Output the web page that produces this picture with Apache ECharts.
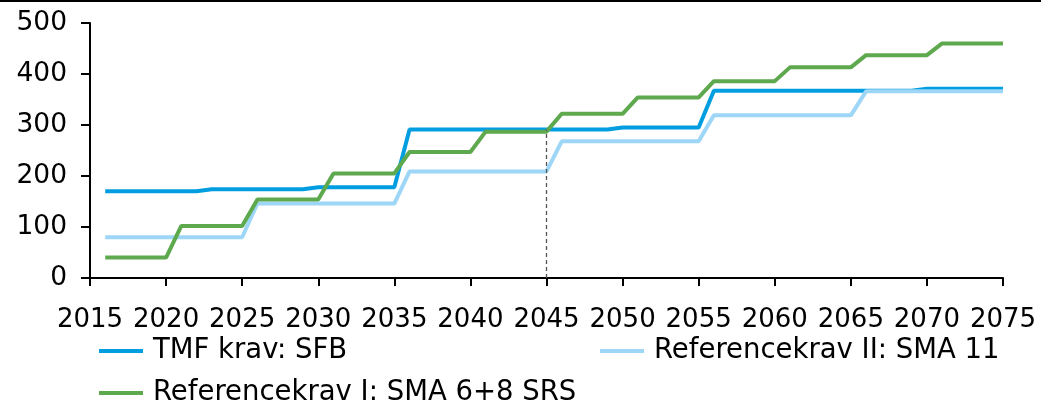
<!DOCTYPE html>
<html>
<head>
<meta charset="utf-8">
<script src="https://cdn.jsdelivr.net/npm/echarts@6/dist/echarts.min.js"></script>
<style>html,body{margin:0;padding:0;background:#fff}#c{width:1041px;height:406px}</style>
</head>
<body>
<div id="c"></div>
<script>
var years = [2016,2017,2018,2019,2020,2021,2022,2023,2024,2025,2026,2027,2028,2029,2030,2031,2032,2033,2034,2035,2036,2037,2038,2039,2040,2041,2042,2043,2044,2045,2046,2047,2048,2049,2050,2051,2052,2053,2054,2055,2056,2057,2058,2059,2060,2061,2062,2063,2064,2065,2066,2067,2068,2069,2070,2071,2072,2073,2074,2075];
var tmfSFB = [170,170,170,170,170,170,170,174,174,174,174,174,174,174,178,178,178,178,178,178,291,291,291,291,291,291,291,291,291,291,291,291,291,291,295,295,295,295,295,295,367,367,367,367,367,367,367,367,367,367,367,367,367,367,371,371,371,371,371,371];
var refII = [80,80,80,80,80,80,80,80,80,80,146,146,146,146,146,146,146,146,146,146,209,209,209,209,209,209,209,209,209,209,268,268,268,268,268,268,268,268,268,268,319,319,319,319,319,319,319,319,319,319,366,366,366,366,366,366,366,366,366,366];
var refI = [40,40,40,40,40,102,102,102,102,102,154,154,154,154,154,205,205,205,205,205,247,247,247,247,247,287,287,287,287,287,322,322,322,322,322,354,354,354,354,354,386,386,386,386,386,413,413,413,413,413,437,437,437,437,437,460,460,460,460,460];
var seriesNames = ['TMF krav: SFB', 'Referencekrav II: SMA 11', 'Referencekrav I: SMA 6+8 SRS'];
var markYear = 2045;

function pairs(v){ return years.map(function(y,i){ return [y, v[i]]; }); }
var markVal = tmfSFB[years.indexOf(markYear)];

var FONT = 'DejaVu Sans';
function leg(name, left, top){
  return {data:[name], orient:'horizontal', left:left, top:top, padding:0,
    icon:'rect', itemWidth:44, itemHeight:4,
    textStyle:{color:'#000', fontFamily:FONT, fontSize:27.5, lineHeight:26, padding:[0,0,0,5]}};
}
var chart = echarts.init(document.getElementById('c'), null, {renderer:'canvas'});
chart.setOption({
  animation:false,
  backgroundColor:'#fff',
  graphic:[{type:'rect', left:0, top:0, shape:{width:1041, height:2}, style:{fill:'#000'}}],
  grid:{left:90, right:38, top:23, bottom:128, containLabel:false},
  xAxis:{type:'value', min:2015, max:2075, interval:5,
    axisLine:{show:true, onZero:false, lineStyle:{color:'#000', width:2}},
    axisTick:{show:true, length:8, lineStyle:{color:'#000', width:2}},
    axisLabel:{color:'#000', fontFamily:FONT, fontSize:26, margin:29, showMinLabel:true, showMaxLabel:true,
      formatter:function(v){ return String(v); }},
    splitLine:{show:false}},
  yAxis:{type:'value', min:0, max:500, interval:100,
    axisLine:{show:true, lineStyle:{color:'#000', width:2}},
    axisTick:{show:true, length:9, lineStyle:{color:'#000', width:2}},
    axisLabel:{color:'#000', fontFamily:FONT, fontSize:26.5, margin:23},
    splitLine:{show:false}},
  legend:[
    leg(seriesNames[0], 99, 337),
    leg(seriesNames[1], 600, 337),
    leg(seriesNames[2], 99, 379)
  ],
  series:[
    {name:seriesNames[0], type:'line', data:pairs(tmfSFB), symbol:'none', color:'#009ee0',
      lineStyle:{width:4, color:'#009ee0'},
      markLine:{silent:true, symbol:['none','none'], label:{show:false},
        lineStyle:{type:[4,3], color:'#555', width:1.3},
        data:[[{coord:[markYear,0]},{coord:[markYear,markVal]}]]}},
    {name:seriesNames[1], type:'line', data:pairs(refII), symbol:'none', color:'#9dd6f6',
      lineStyle:{width:4, color:'#9dd6f6'}},
    {name:seriesNames[2], type:'line', data:pairs(refI), symbol:'none', color:'#5ea84e',
      lineStyle:{width:4, color:'#5ea84e'}}
  ]
});
</script>
</body>
</html>
